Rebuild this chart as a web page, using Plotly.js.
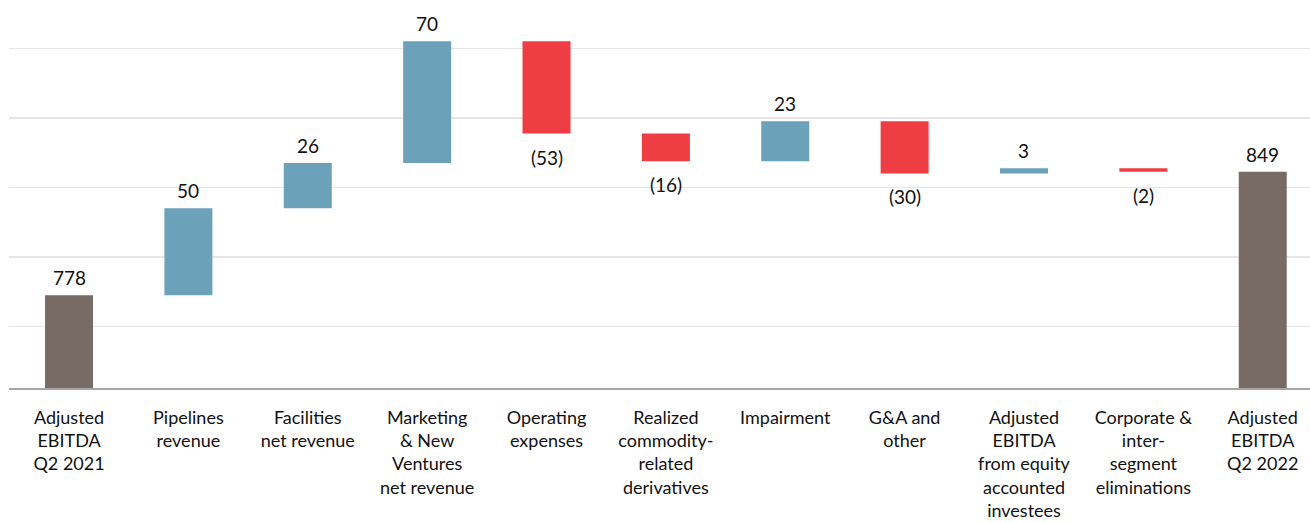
<!DOCTYPE html>
<html>
<head>
<meta charset="utf-8">
<script src="https://cdn.plot.ly/plotly-3.0.1.min.js"></script>
<style>html,body{margin:0;padding:0;background:#fff;}#chart{width:1310px;height:523px;}</style>
</head>
<body>
<div id="chart"></div>
<script>
const categories = [
  "Adjusted<br>EBITDA<br>Q2 2021",
  "Pipelines<br>revenue",
  "Facilities<br>net revenue",
  "Marketing<br>& New<br>Ventures<br>net revenue",
  "Operating<br>expenses",
  "Realized<br>commodity-<br>related<br>derivatives",
  "Impairment",
  "G&A and<br>other",
  "Adjusted<br>EBITDA<br>from equity<br>accounted<br>investees",
  "Corporate &<br>inter-<br>segment<br>eliminations",
  "Adjusted<br>EBITDA<br>Q2 2022"
];
const values = [778, 50, 26, 70, -53, -16, 23, -30, 3, -2, 849];
const measures = ["absolute", "relative", "relative", "relative", "relative", "relative", "relative", "relative", "relative", "relative", "total"];

const xIdx = categories.map((c, i) => i);

// label positions from cumulative totals
const annotations = [];
let cum = 0;
values.forEach((v, i) => {
  let top, label, isNeg = false;
  if (measures[i] === "absolute") { cum = v; top = cum; label = String(v); }
  else if (measures[i] === "total") { top = cum; label = String(cum); }
  else {
    cum += v;
    if (v >= 0) { top = cum; label = String(v); }
    else { top = cum; label = "(" + Math.abs(v) + ")"; isNeg = true; }
  }
  annotations.push({
    x: i, y: top, xref: "x", yref: "y", text: label, showarrow: false,
    yanchor: isNeg ? "top" : "bottom", yshift: isNeg ? -10 : 4,
    font: {family: "Lato, 'Open Sans', sans-serif", size: 19, color: "#111"}
  });
});

const trace = {
  type: "waterfall",
  x: xIdx,
  y: values.map((v, i) => measures[i] === "total" ? 0 : v),
  measure: measures,
  width: 0.402,
  connector: {visible: false},
  increasing: {marker: {color: "#6BA1B9"}},
  decreasing: {marker: {color: "#EE3D43"}},
  totals: {marker: {color: "#786A64"}},
  textinfo: "none",
  hoverinfo: "skip",
  cliponaxis: false
};

const layout = {
  width: 1310, height: 523,
  margin: {l: 9, r: 0, t: 0, b: 135},
  paper_bgcolor: "#fff", plot_bgcolor: "#fff",
  showlegend: false,
  font: {family: "Lato, 'Open Sans', sans-serif", size: 19, color: "#111"},
  xaxis: {
    range: [-0.503, 10.396],
    tickmode: "array", tickvals: xIdx, ticktext: categories,
    showline: true, linecolor: "#A6A6A6", linewidth: 2,
    showgrid: false, zeroline: false, ticks: "",
    tickfont: {family: "Lato, 'Open Sans', sans-serif", size: 18, color: "#111"},
    ticklabelstandoff: 12
  },
  yaxis: {
    range: [724.6, 947.8],
    tickmode: "array", tickvals: [760, 800, 840, 880, 920],
    showticklabels: false, showgrid: true, gridcolor: "#E6E6E6", gridwidth: 1.5,
    zeroline: false, showline: false, ticks: ""
  },
  annotations: annotations
};

Plotly.newPlot("chart", [trace], layout, {staticPlot: true, displayModeBar: false});
</script>
</body>
</html>
